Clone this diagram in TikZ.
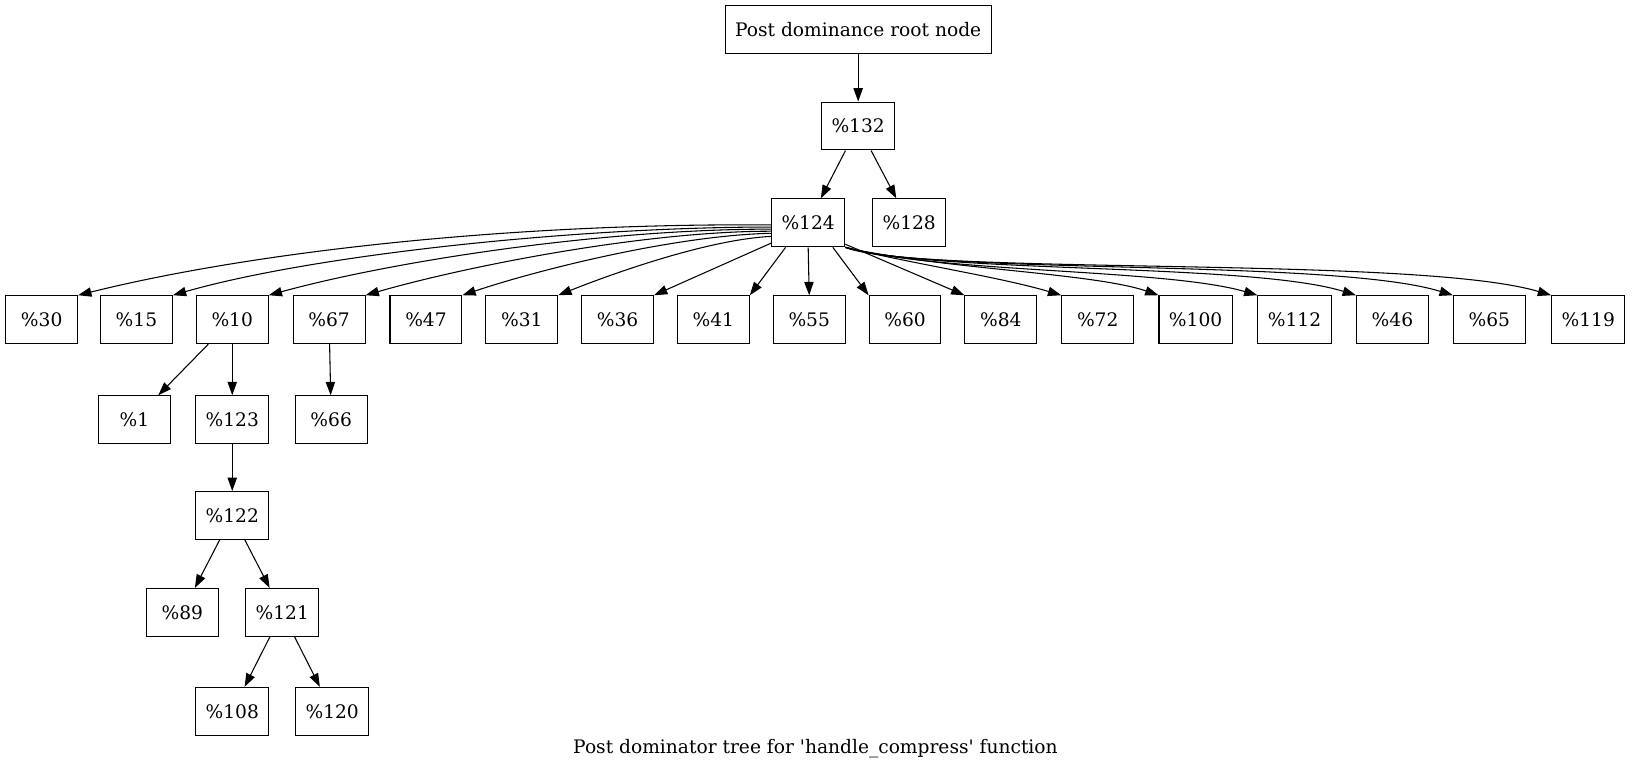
\documentclass[tikz,border=0pt]{standalone}
\usepackage{fontspec}
\setmainfont{DejaVu Serif}
\usetikzlibrary{arrows.meta}
\tikzset{
    blk/.style={draw, line width=0.8pt, minimum width=54pt, minimum height=36pt, inner xsep=7.5pt, font=\fontsize{14pt}{17pt}\selectfont},
    edge/.style={line width=0.8pt, -{Triangle[length=10pt, width=7pt]}}
}
\begin{document}
\begin{tikzpicture}[x=0.7826pt, y=-0.7826pt]
        \useasboundingbox (0, 0) rectangle (1568, 741);
        %%top of the tree
        \node[blk] (root) at(824, 28){Post dominance root node};
        \node[blk] (n132) at(824, 121){\%132};
        \node[blk] (n124) at(776, 214){\%124};
        \node[blk] (n128) at(873, 214){\%128};

        %%children of %124
        \node[blk] (n30) at(40, 307){\%30};
        \node[blk] (n15) at(131, 307){\%15};
        \node[blk] (n10) at(223, 307){\%10};
        \node[blk] (n67) at(316, 307){\%67};
        \node[blk] (n47) at(409, 307){\%47};
        \node[blk] (n31) at(501, 307){\%31};
        \node[blk] (n36) at(593, 307){\%36};
        \node[blk] (n41) at(685, 307){\%41};
        \node[blk] (n55) at(777, 307){\%55};
        \node[blk] (n60) at(869, 307){\%60};
        \node[blk] (n84) at(961, 307){\%84};
        \node[blk] (n72) at(1054, 307){\%72};
        \node[blk] (n100) at(1148, 307){\%100};
        \node[blk] (n112) at(1243, 307){\%112};
        \node[blk] (n46) at(1337, 307){\%46};
        \node[blk] (n65) at(1430, 307){\%65};
        \node[blk] (n119) at(1525, 307){\%119};

        %%lower levels
        \node[blk] (n1) at(129, 403){\%1};
        \node[blk] (n123) at(223, 403){\%123};
        \node[blk] (n66) at(318, 403){\%66};
        \node[blk] (n122) at(223, 495){\%122};
        \node[blk] (n89) at(175, 588){\%89};
        \node[blk] (n121) at(271, 588){\%121};
        \node[blk] (n108) at(223, 683){\%108};
        \node[blk] (n120) at(319, 683){\%120};

        \node[font=\fontsize{14pt}{17pt}\selectfont] (cap) at(783, 719){Post dominator tree for \textquotesingle handle\_compress\textquotesingle\ function};

        %%straight edges
        \draw[edge] (root) -- (n132);
        \draw[edge] (n132) -- (n124);
        \draw[edge] (n132) -- (n128);
        \draw[edge] (n10) -- (n1);
        \draw[edge] (n10) -- (n123);
        \draw[edge] (n67) -- (n66);
        \draw[edge] (n123) -- (n122);
        \draw[edge] (n122) -- (n89);
        \draw[edge] (n122) -- (n121);
        \draw[edge] (n121) -- (n108);
        \draw[edge] (n121) -- (n120);

        %%fan out of %124, left side
        \draw[edge] (n124.west) ++(0, 2) .. controls (500, 214) and (250, 240) .. (n30.north east);
        \draw[edge] (n124.west) ++(0, 4) .. controls (550, 218) and (300, 245) .. (n15.north east);
        \draw[edge] (n124.west) ++(0, 6) .. controls (580, 220) and (380, 250) .. (n10.north east);
        \draw[edge] (n124.west) ++(0, 8) .. controls (620, 222) and (450, 255) .. (n67.north east);
        \draw[edge] (n124.west) ++(0, 10) .. controls (650, 226) and (520, 258) .. (n47.north east);
        \draw[edge] (n124.west) ++(0, 13) .. controls (680, 230) and (590, 262) .. (n31.north east);
        \draw[edge] (n124.south west) ++(0, -4) -- (n36.north east);
        \draw[edge] (n124.south west) ++(14, 0) -- (n41.north east);
        \draw[edge] (n124.south) -- (n55.north);
        \draw[edge] (n124.south east) ++(-12, 0) -- (n60.north west);
        \draw[edge] (n124.south east) ++(0, -3) -- (n84.north west);

        %%fan out of %124, right side
        \draw[edge] (n124.south east) .. controls (880, 254) and (960, 266) .. (n72.north west);
        \draw[edge] (n124.south east) .. controls (900, 258) and (1050, 262) .. (n100.north west);
        \draw[edge] (n124.south east) .. controls (900, 262) and (1120, 258) .. (n112.north west);
        \draw[edge] (n124.south east) .. controls (900, 263) and (1200, 252) .. (n46.north west);
        \draw[edge] (n124.south east) .. controls (890, 264) and (1280, 248) .. (n65.north west);
        \draw[edge] (n124.south east) .. controls (880, 265) and (1360, 245) .. (n119.north west);

    \end{tikzpicture}
\end{document}
